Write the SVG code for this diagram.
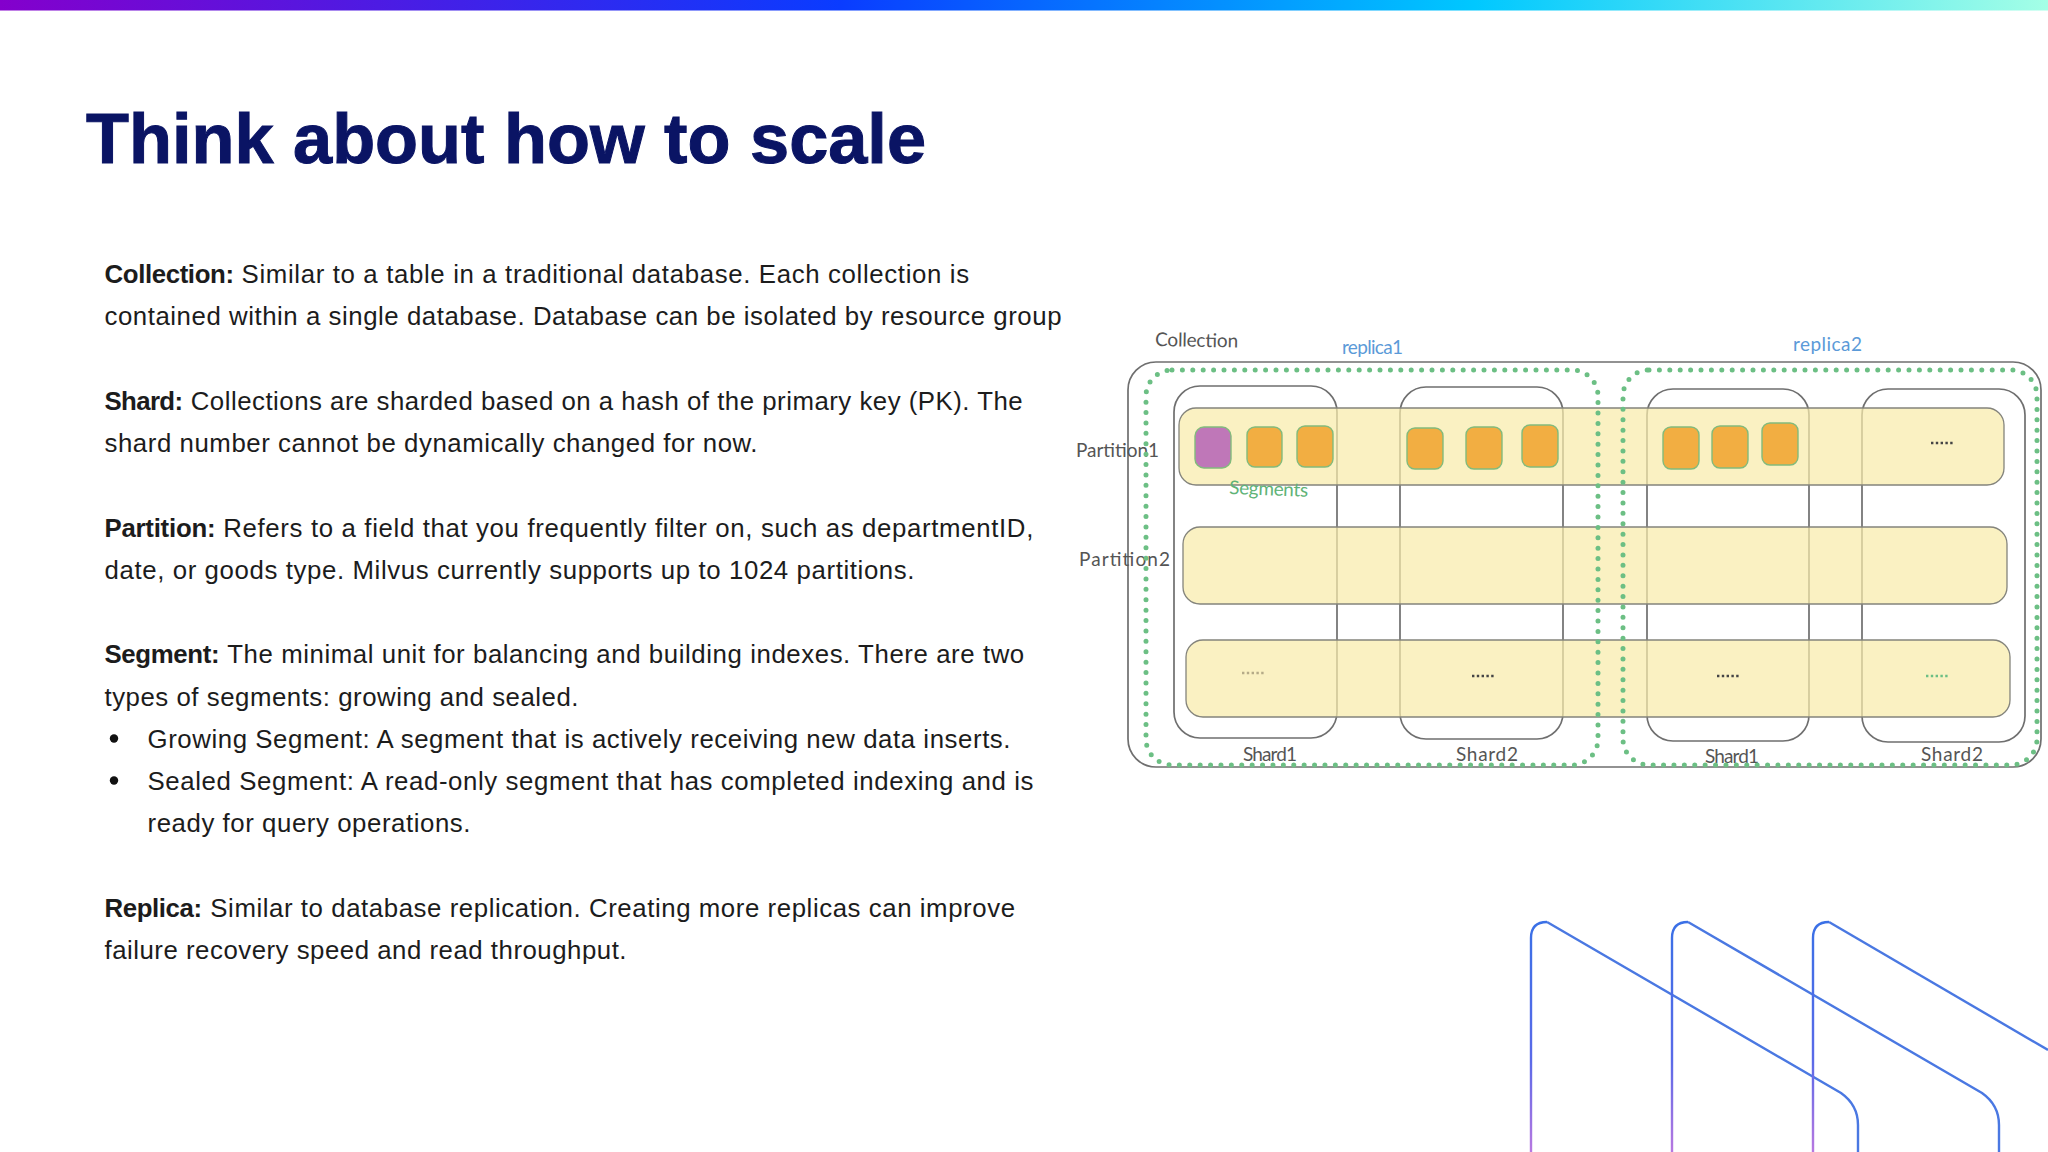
<svg xmlns="http://www.w3.org/2000/svg" width="2048" height="1152" viewBox="0 0 2048 1152">
<style>
.t{font-family:"Liberation Sans",Arial,sans-serif;font-size:25.8px;fill:#1c1c1c}
.s{font-weight:700}
.h{font-family:"Lato","Open Sans",sans-serif;font-weight:400;font-size:19px;fill:#555}
.b{fill:#5b9ad8}
.g{fill:#5fb377}
.box{fill:none;stroke:#6f6f6f;stroke-width:1.7}
.part{fill:#f8ecaa;fill-opacity:.72;stroke:#84847c;stroke-width:1.3}
.dots{fill:none;stroke:#6cbf84;stroke-width:5;stroke-linecap:round;stroke-dasharray:0 10.4}
.seg{fill:#f2ae42;stroke:#82bb7c;stroke-width:1.4}
.p{fill:#bf77b8}
.dd{stroke:#444;stroke-width:2.4;stroke-dasharray:2.4 2.4;fill:none}
.deco{fill:none;stroke-width:2.4}
.l{stroke:url(#dg)}
.r{stroke:#4a78e2}
</style>
<defs>
<linearGradient id="bar" x1="0" x2="1" y1="0" y2="0">
<stop offset="0" stop-color="#8400cc"/><stop offset=".41" stop-color="#0a3cff"/><stop offset=".72" stop-color="#00c8ff"/><stop offset="1" stop-color="#a4ffe6"/>
</linearGradient>
<linearGradient id="dg" gradientUnits="userSpaceOnUse" x1="0" y1="922" x2="0" y2="1152">
<stop offset="0" stop-color="#3a70e6"/><stop offset=".6" stop-color="#5a6ae8"/><stop offset="1" stop-color="#b878e0"/>
</linearGradient>
</defs>
<rect width="2048" height="1152" fill="#fff"/>
<rect id="top-bar" width="2048" height="10.5" fill="url(#bar)"/>
<text id="title" x="86" y="163" font-family="'Liberation Sans',Arial,sans-serif" font-weight="700" font-size="70" fill="#0a1464" stroke="#0a1464" stroke-width="1" textLength="840" lengthAdjust="spacingAndGlyphs">Think about how to scale</text>

<g id="body-text">
<text class="t s" x="104.5" y="283" textLength="129.5">Collection:</text>
<text class="t" x="241.6" y="283" textLength="727.5">Similar to a table in a traditional database. Each collection is</text>
<text class="t" x="104.5" y="325.3" textLength="957">contained within a single database. Database can be isolated by resource group</text>
<text class="t s" x="104.5" y="409.8" textLength="78.5">Shard:</text>
<text class="t" x="190.7" y="409.8" textLength="832">Collections are sharded based on a hash of the primary key (PK). The</text>
<text class="t" x="104.5" y="452" textLength="653">shard number cannot be dynamically changed for now.</text>
<text class="t s" x="104.5" y="536.5" textLength="111">Partition:</text>
<text class="t" x="223.3" y="536.5" textLength="810">Refers to a field that you frequently filter on, such as departmentID,</text>
<text class="t" x="104.5" y="578.8" textLength="810">date, or goods type. Milvus currently supports up to 1024 partitions.</text>
<text class="t s" x="104.5" y="663.3" textLength="115">Segment:</text>
<text class="t" x="227.2" y="663.3" textLength="797">The minimal unit for balancing and building indexes. There are two</text>
<text class="t" x="104.5" y="705.5" textLength="474">types of segments: growing and sealed.</text>
<circle cx="114" cy="738.5" r="4.2" fill="#111"/>
<text class="t" x="147.5" y="747.8" textLength="863">Growing Segment: A segment that is actively receiving new data inserts.</text>
<circle cx="114" cy="780.5" r="4.2" fill="#111"/>
<text class="t" x="147.5" y="790" textLength="886">Sealed Segment: A read-only segment that has completed indexing and is</text>
<text class="t" x="147.5" y="832.3" textLength="323">ready for query operations.</text>
<text class="t s" x="104.5" y="916.8" textLength="97.5">Replica:</text>
<text class="t" x="210.3" y="916.8" textLength="804.7">Similar to database replication. Creating more replicas can improve</text>
<text class="t" x="104.5" y="959" textLength="522">failure recovery speed and read throughput.</text>
</g>

<g id="collection"><rect class="box" x="1128" y="362" width="913" height="405" rx="28"/>
<text class="h" x="1155" y="346" textLength="83" transform="rotate(1 1155 346)">Collection</text></g>

<g id="shards">
<g id="shard1a"><rect class="box" x="1174" y="386" width="163" height="352" rx="26"/><text class="h" x="1243" y="761" textLength="54">Shard1</text></g>
<g id="shard2a"><rect class="box" x="1400" y="387" width="163" height="352" rx="26"/><text class="h" x="1456" y="761" textLength="62">Shard2</text></g>
<g id="shard1b"><rect class="box" x="1647" y="389" width="162" height="352" rx="26"/><text class="h" x="1705" y="763" textLength="54">Shard1</text></g>
<g id="shard2b"><rect class="box" x="1862" y="389" width="163" height="353" rx="26"/><text class="h" x="1921" y="761" textLength="62">Shard2</text></g>
</g>

<g id="partitions">
<g id="partition1"><rect class="part" x="1179" y="408" width="825" height="77" rx="17"/><text class="h" x="1076" y="457" textLength="83">Partition1</text></g>
<g id="partition2"><rect class="part" x="1183" y="527" width="824" height="77" rx="17"/><text class="h" x="1079" y="566" textLength="91">Partition2</text></g>
<g id="partition3"><rect class="part" x="1186" y="640" width="824" height="77" rx="17"/></g>
</g>

<g id="segments">
<rect class="seg p" x="1195" y="427" width="36" height="41" rx="9"/>
<rect class="seg" x="1247" y="427" width="35" height="40" rx="8"/>
<rect class="seg" x="1297" y="426" width="36" height="41" rx="8"/>
<rect class="seg" x="1407" y="428" width="36" height="41" rx="8"/>
<rect class="seg" x="1466" y="427" width="36" height="42" rx="8"/>
<rect class="seg" x="1522" y="425" width="36" height="42" rx="8"/>
<rect class="seg" x="1663" y="427" width="36" height="42" rx="8"/>
<rect class="seg" x="1712" y="426" width="36" height="42" rx="8"/>
<rect class="seg" x="1762" y="423" width="36" height="42" rx="8"/>
<text class="h g" x="1229" y="494" textLength="79" transform="rotate(2 1229 494)">Segments</text>
</g>

<g id="ellipses">
<path class="dd" d="M1931 443h23"/>
<path class="dd" d="M1242 673h24" style="stroke:#b5ab88"/>
<path class="dd" d="M1472 676h23"/>
<path class="dd" d="M1717 676h23"/>
<path class="dd" d="M1926 676h23" style="stroke:#6cbf84"/>
</g>

<g id="replica1"><rect class="dots" x="1146" y="370" width="452" height="395" rx="26"/><text class="h b" x="1342" y="354" textLength="61">replica1</text></g>
<g id="replica2"><rect class="dots" x="1623" y="370" width="414" height="395" rx="26"/><text class="h b" x="1793" y="351" textLength="69">replica2</text></g>

<g id="decoration">
<path class="deco l" d="M1531 1152V938Q1531 922 1547 922"/>
<path class="deco r" d="M1547 922L1841 1093Q1858 1105 1858 1125V1152"/>
<path class="deco l" d="M1672 1152V938Q1672 922 1688 922"/>
<path class="deco r" d="M1688 922L1982 1093Q1999 1105 1999 1125V1152"/>
<path class="deco l" d="M1813 1152V938Q1813 922 1829 922"/>
<path class="deco r" d="M1829 922L2048 1050"/>
</g>
</svg>
